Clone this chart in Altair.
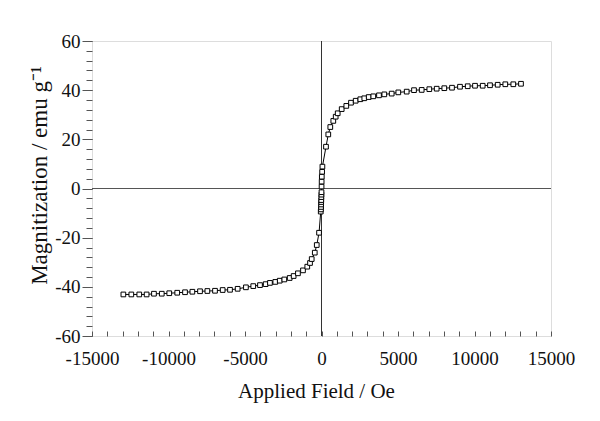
import altair as alt
import pandas as pd

field = [
    -12950, -12430, -11910, -11430, -10950, -10440, -9950, -9430, -8920, -8440,
    -7940, -7460, -6960, -6460, -5980, -5480, -4940, -4460, -4020, -3650,
    -3370, -3020, -2730, -2430, -2080, -1820, -1540, -1210, -930, -750,
    -640, -440, -310, -160, -50,
    -35, -30, -25, -20, -15, -10, -5, 0, 5, 10, 20, 40, 60,
    294, 444, 575, 771, 928, 1059, 1320, 1621, 1928, 2235,
    2536, 2797, 3085, 3386, 3758, 4105, 4588, 5020, 5568, 6046,
    6549, 7046, 7529, 8026, 8529, 9052, 9556, 10033, 10536, 11013,
    11516, 12013, 12536, 13039,
]
magnet = [
    -43.1, -43.1, -43.1, -43.1, -42.8, -42.8, -42.6, -42.4, -42.2, -42.0,
    -41.8, -41.7, -41.6, -41.3, -41.2, -40.8, -40.2, -39.7, -39.3, -38.9,
    -38.4, -38.0, -37.5, -37.0, -36.4, -35.6, -34.5, -33.3, -31.8, -30.3,
    -28.7, -26.1, -23.0, -18.0, -9.4,
    -8.5, -7.5, -6.5, -5.5, -4.7, -3.5, -2.5, -1.5, 0.8, 2.8, 4.8, 6.8, 8.9,
    17.0, 22.0, 25.0, 27.5, 29.2, 30.6, 32.3, 33.6, 34.9, 35.7,
    36.3, 36.7, 37.2, 37.5, 37.9, 38.3, 38.6, 39.1, 39.4, 40.0,
    40.1, 40.4, 40.6, 40.8, 41.0, 41.4, 41.6, 41.8, 41.8, 42.0,
    42.2, 42.4, 42.4, 42.6,
]

x_label_values = [-15000, -10000, -5000, 0, 5000, 10000, 15000]
x_minor_values = list(range(-15000, 15001, 1000))
y_label_values = [-60, -40, -20, 0, 20, 40, 60]
y_minor_values = list(range(-60, 61, 4))
zero = [0]

df = pd.DataFrame({"H": field, "M": magnet, "i": list(range(len(field)))})
zdf = pd.DataFrame({"v": zero})

FONT = "Liberation Serif"
AX = "#555555"

xscale = alt.Scale(domain=[-15000, 15000], nice=False, zero=False)
yscale = alt.Scale(domain=[-60, 60], nice=False, zero=False)

line = alt.Chart(df).mark_line(color="black", strokeWidth=1).encode(
    x=alt.X(
        "H:Q", scale=xscale,
        axis=alt.Axis(
            orient="bottom", values=x_label_values, ticks=False, grid=False,
            domain=False, title="Applied Field / Oe", labelExpr="'' + datum.value",
            labelFlush=False, labelOverlap=False,
            labelFont=FONT, labelFontSize=19, labelColor="#111", labelPadding=13,
            titleFont=FONT, titleFontSize=21, titleFontWeight="normal",
            titleColor="#111", titlePadding=12, titleX=224,
        ),
    ),
    y=alt.Y(
        "M:Q", scale=yscale,
        axis=alt.Axis(
            orient="left", values=y_label_values, grid=False, domain=False,
            tickSize=10, tickColor=AX, tickWidth=1,
            labelExpr="'' + datum.value",
            labelFlush=False, labelOverlap=False,
            labelFont=FONT, labelFontSize=19, labelColor="#111", labelPadding=2,
            title="Magnitization / emu g⁻¹", titleFont=FONT, titleFontSize=23,
            titleFontWeight="normal", titleColor="#111", titleX=-41, titleY=134,
        ),
    ),
    order="i:Q",
)

points = alt.Chart(df).mark_square(
    size=22, fill="white", stroke="black", strokeWidth=1, opacity=1
).encode(
    x=alt.X(
        "H:Q", scale=xscale,
        axis=alt.Axis(
            orient="top", offset=-295, values=x_minor_values, labels=False,
            domain=False, grid=False, tickSize=5, tickColor=AX, tickWidth=1, title=None,
        ),
    ),
    y=alt.Y(
        "M:Q", scale=yscale,
        axis=alt.Axis(
            orient="left", values=y_minor_values, labels=False, domain=False,
            grid=False, tickSize=6, tickColor=AX, tickWidth=1, title=None,
        ),
    ),
)

vrule = alt.Chart(zdf).mark_rule(color="#333", strokeWidth=1).encode(
    x=alt.X("v:Q", scale=xscale, axis=None)
)
hrule = alt.Chart(zdf).mark_rule(color="#555", strokeWidth=1.2).encode(
    y=alt.Y("v:Q", scale=yscale, axis=None)
)

chart = alt.layer(vrule, hrule, line, points).resolve_axis(
    x="independent", y="independent"
).properties(
    width=459, height=295,
    padding={"left": 84, "top": 33, "right": 35, "bottom": 70},
    autosize=alt.AutoSizeParams(type="none"),
).configure_view(stroke="#555", strokeWidth=1.5).configure(background="white")

chart.save("out.html", embed_options={"renderer": "svg", "actions": False})
